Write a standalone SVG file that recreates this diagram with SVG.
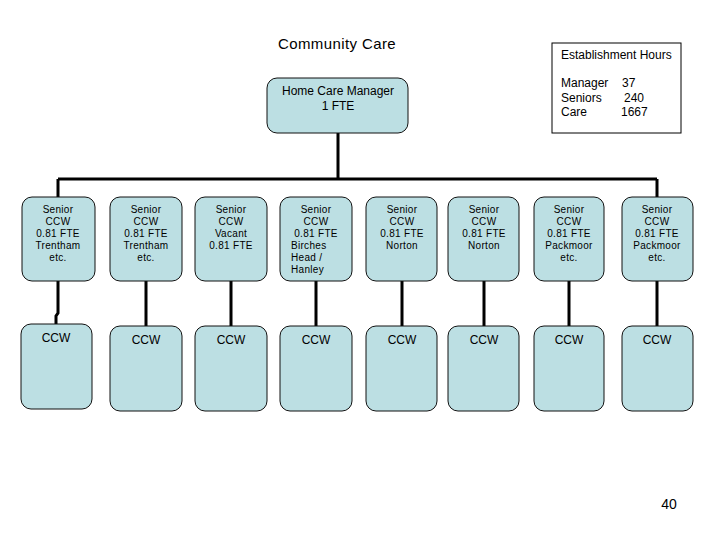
<svg xmlns="http://www.w3.org/2000/svg" width="720" height="540" viewBox="0 0 720 540">
<style>
.box{fill:#bcdfe3;stroke:#111;stroke-width:1}
.t{font-family:"Liberation Sans",Arial,sans-serif;fill:#000}
.s{font-size:10px;text-anchor:middle;letter-spacing:0.3px}
.c{font-size:12px;text-anchor:middle}
.ln{stroke:#000;stroke-width:3;fill:none}
</style>
<rect width="720" height="540" fill="#fff"/>
<text class="t" x="337" y="49" font-size="15" letter-spacing="0.4" text-anchor="middle">Community Care</text>
<g id="est">
<rect x="552" y="43" width="129" height="90" fill="#fff" stroke="#000" stroke-width="1"/>
<text class="t" x="561" y="59" font-size="12">Establishment Hours</text>
<text class="t" x="561" y="87" font-size="12">Manager</text><text class="t" x="622" y="87" font-size="12">37</text>
<text class="t" x="561" y="102" font-size="12">Seniors</text><text class="t" x="624" y="102" font-size="12">240</text>
<text class="t" x="561" y="116" font-size="12">Care</text><text class="t" x="621" y="116" font-size="12">1667</text>
</g>
<g id="connectors">
<path class="ln" d="M338 133V179M58 179H657M58 179V197M657 179V197"/>
<path class="ln" d="M58 281V313L56 316V324"/>
<path class="ln" d="M146 281V326M231 281V326M316 281V326M402 281V326M484 281V326M569 281V326M657 281V326"/>
</g>
<g id="manager">
<rect class="box" x="267" y="78" width="141" height="55" rx="10"/>
<text class="t c" x="338" y="95">Home Care Manager</text>
<text class="t c" x="338" y="110">1 FTE</text>
</g>
<g id="s1"><rect class="box" x="22" y="197" width="73" height="84" rx="10"/>
<text class="t s" x="58" y="213">Senior</text><text class="t s" x="58" y="225">CCW</text><text class="t s" x="58" y="237">0.81 FTE</text><text class="t s" x="58" y="249">Trentham</text><text class="t s" x="58" y="261">etc.</text></g>
<g id="s2"><rect class="box" x="110" y="197" width="72" height="84" rx="10"/>
<text class="t s" x="146" y="213">Senior</text><text class="t s" x="146" y="225">CCW</text><text class="t s" x="146" y="237">0.81 FTE</text><text class="t s" x="146" y="249">Trentham</text><text class="t s" x="146" y="261">etc.</text></g>
<g id="s3"><rect class="box" x="195" y="197" width="72" height="84" rx="10"/>
<text class="t s" x="231" y="213">Senior</text><text class="t s" x="231" y="225">CCW</text><text class="t s" x="231" y="237">Vacant</text><text class="t s" x="231" y="249">0.81 FTE</text></g>
<g id="s4"><rect class="box" x="280" y="197" width="72" height="84" rx="10"/>
<text class="t s" x="316" y="213">Senior</text><text class="t s" x="316" y="225">CCW</text><text class="t s" x="316" y="237">0.81 FTE</text>
<text class="t" font-size="10" letter-spacing="0.3" x="291" y="249">Birches</text><text class="t" font-size="10" letter-spacing="0.3" x="291" y="261">Head /</text><text class="t" font-size="10" letter-spacing="0.3" x="291" y="273">Hanley</text></g>
<g id="s5"><rect class="box" x="366" y="197" width="71" height="84" rx="10"/>
<text class="t s" x="402" y="213">Senior</text><text class="t s" x="402" y="225">CCW</text><text class="t s" x="402" y="237">0.81 FTE</text><text class="t s" x="402" y="249">Norton</text></g>
<g id="s6"><rect class="box" x="448" y="197" width="71" height="84" rx="10"/>
<text class="t s" x="484" y="213">Senior</text><text class="t s" x="484" y="225">CCW</text><text class="t s" x="484" y="237">0.81 FTE</text><text class="t s" x="484" y="249">Norton</text></g>
<g id="s7"><rect class="box" x="534" y="197" width="70" height="84" rx="10"/>
<text class="t s" x="569" y="213">Senior</text><text class="t s" x="569" y="225">CCW</text><text class="t s" x="569" y="237">0.81 FTE</text><text class="t s" x="569" y="249">Packmoor</text><text class="t s" x="569" y="261">etc.</text></g>
<g id="s8"><rect class="box" x="622" y="197" width="71" height="84" rx="10"/>
<text class="t s" x="657" y="213">Senior</text><text class="t s" x="657" y="225">CCW</text><text class="t s" x="657" y="237">0.81 FTE</text><text class="t s" x="657" y="249">Packmoor</text><text class="t s" x="657" y="261">etc.</text></g>
<g id="c1"><rect class="box" x="21" y="324" width="71" height="85" rx="10"/><text class="t c" x="56" y="342">CCW</text></g>
<g id="c2"><rect class="box" x="110" y="326" width="72" height="85" rx="10"/><text class="t c" x="146" y="344">CCW</text></g>
<g id="c3"><rect class="box" x="195" y="326" width="72" height="85" rx="10"/><text class="t c" x="231" y="344">CCW</text></g>
<g id="c4"><rect class="box" x="280" y="326" width="72" height="85" rx="10"/><text class="t c" x="316" y="344">CCW</text></g>
<g id="c5"><rect class="box" x="366" y="326" width="71" height="85" rx="10"/><text class="t c" x="402" y="344">CCW</text></g>
<g id="c6"><rect class="box" x="448" y="326" width="71" height="85" rx="10"/><text class="t c" x="484" y="344">CCW</text></g>
<g id="c7"><rect class="box" x="534" y="326" width="70" height="85" rx="10"/><text class="t c" x="569" y="344">CCW</text></g>
<g id="c8"><rect class="box" x="622" y="326" width="71" height="85" rx="10"/><text class="t c" x="657" y="344">CCW</text></g>
<text class="t" x="669" y="509" font-size="14" text-anchor="middle">40</text>
</svg>
